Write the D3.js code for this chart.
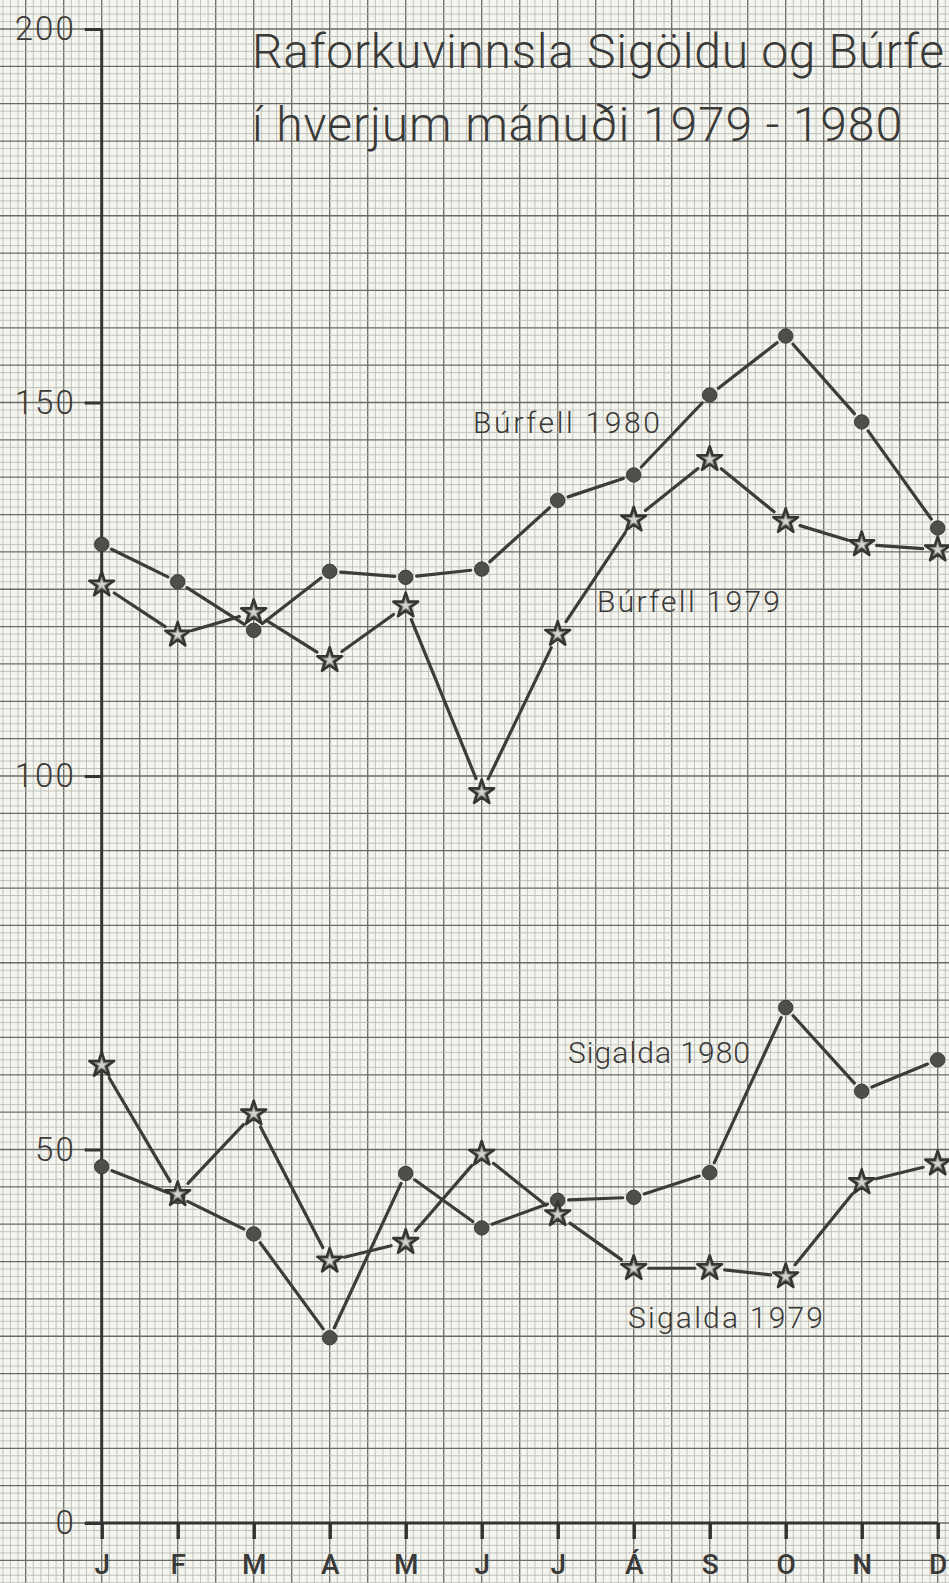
<!DOCTYPE html>
<html>
<head>
<meta charset="utf-8">
<script src="https://cdn.jsdelivr.net/npm/d3@7"></script>
<style>
  body { margin: 0; background: #f5f5f0; }
  svg { display: block; }
  text { font-family: Roboto, "DejaVu Sans", sans-serif; fill: #3a3a38; }
</style>
</head>
<body>
<svg width="949" height="1583"></svg>
<script>
// months along the bottom
var months = ["J", "F", "M", "A", "M", "J", "J", "Á", "S", "O", "N", "D"];
var yTicks = [0, 50, 100, 150, 200];

// GWh per month
var burfell1980 = [131.0, 126.0, 119.5, 127.4, 126.6, 127.7, 136.9, 140.3, 151.0, 158.9, 147.4, 133.2];
var burfell1979 = [125.6, 118.9, 121.9, 115.5, 122.8, 97.8, 119.0, 134.3, 142.4, 134.1, 131.0, 130.3];
var sigalda1980 = [47.7, 43.7, 38.7, 24.8, 46.8, 39.5, 43.2, 43.6, 46.9, 69.0, 57.8, 62.0];
var sigalda1979 = [61.3, 44.0, 54.8, 35.1, 37.6, 49.4, 41.3, 34.1, 34.1, 33.0, 45.6, 48.1];

var series = [
  { name: "Búrfell 1980", values: burfell1980, mark: "dot" },
  { name: "Búrfell 1979", values: burfell1979, mark: "star" },
  { name: "Sigalda 1980", values: sigalda1980, mark: "dot" },
  { name: "Sigalda 1979", values: sigalda1979, mark: "star" }
];

var svg = d3.select("svg");
var x = d3.scaleLinear().domain([0, 11]).range([101.7, 937.7]);
var y = d3.scaleLinear().domain([0, 200]).range([1523, 29]);

// graph paper
svg.append("rect").attr("width", 949).attr("height", 1583).attr("fill", "#f5f5f0");
var grid = svg.append("g");
d3.range(-14, 114).forEach(function(k) {
  var gx = x(k / 10);
  grid.append("line")
    .attr("x1", gx).attr("x2", gx).attr("y1", 0).attr("y2", 1583)
    .attr("stroke", k % 5 == 0 ? "#6a6a66" : "#b6b6b0")
    .attr("stroke-width", k % 5 == 0 ? 1.3 : 0.8);
});
d3.range(-9, 205).forEach(function(v) {
  var gy = y(v);
  grid.append("line")
    .attr("x1", 0).attr("x2", 949).attr("y1", gy).attr("y2", gy)
    .attr("stroke", v % 5 == 0 ? "#6a6a66" : "#b6b6b0")
    .attr("stroke-width", v % 5 == 0 ? 1.3 : 0.8);
});

// axes
svg.append("line")
  .attr("x1", x(0)).attr("x2", x(0)).attr("y1", y(200)).attr("y2", y(0))
  .attr("stroke", "#333").attr("stroke-width", 3);
svg.append("line")
  .attr("x1", x(-0.22)).attr("x2", x(11)).attr("y1", y(0)).attr("y2", y(0))
  .attr("stroke", "#333").attr("stroke-width", 3);

var yAxis = svg.append("g")
  .attr("transform", "translate(" + x(0) + ",0)")
  .call(d3.axisLeft(y).tickValues(yTicks).tickSize(17).tickPadding(9));
yAxis.select(".domain").remove();
yAxis.selectAll("line").attr("stroke", "#333").attr("stroke-width", 3);
yAxis.selectAll("text").attr("font-size", 33).attr("font-weight", 300)
  .attr("letter-spacing", 2)
  .style("font-family", "Roboto, sans-serif").attr("fill", "#3a3a38");

var xAxis = svg.append("g")
  .attr("transform", "translate(0," + y(0) + ")")
  .call(d3.axisBottom(x).tickValues(d3.range(12)).tickFormat(function(i) { return months[i]; })
    .tickSize(16).tickSizeOuter(0).tickPadding(15));
xAxis.select(".domain").remove();
xAxis.selectAll("line").attr("stroke", "#333").attr("stroke-width", 3.5);
xAxis.selectAll("text").attr("font-size", 28).attr("font-weight", 500)
  .style("font-family", "Roboto, sans-serif").attr("fill", "#3a3a38");

// lines with small gaps at the marks, like the hand drawing
var gap = { dot: 11, star: 15 };
series.forEach(function(s) {
  var g = svg.append("g");
  for (var i = 0; i < s.values.length - 1; i++) {
    var x1 = x(i), y1 = y(s.values[i]), x2 = x(i + 1), y2 = y(s.values[i + 1]);
    var len = Math.hypot(x2 - x1, y2 - y1);
    var ux = (x2 - x1) / len, uy = (y2 - y1) / len;
    g.append("line")
      .attr("x1", x1 + ux * gap[s.mark]).attr("y1", y1 + uy * gap[s.mark])
      .attr("x2", x2 - ux * gap[s.mark]).attr("y2", y2 - uy * gap[s.mark])
      .attr("stroke", "#3c3c3a").attr("stroke-width", 3.2).attr("stroke-linecap", "round");
  }
});

// marks
var starBig = d3.symbol().type(d3.symbolStar).size(190);
var starSmall = d3.symbol().type(d3.symbolStar).size(34);
series.forEach(function(s) {
  var g = svg.append("g");
  s.values.forEach(function(v, i) {
    if (s.mark == "dot") {
      g.append("circle").attr("cx", x(i)).attr("cy", y(v)).attr("r", 7.2)
        .attr("fill", "#4e4e4b").attr("stroke", "#3a3a38").attr("stroke-width", 1);
    } else {
      g.append("path").attr("d", starBig())
        .attr("transform", "translate(" + x(i) + "," + y(v) + ")")
        .attr("fill", "#8f8f89").attr("stroke", "#353533").attr("stroke-width", 2.6)
        .attr("stroke-linejoin", "round");
      g.append("path").attr("d", starSmall())
        .attr("transform", "translate(" + x(i) + "," + y(v) + ")")
        .attr("fill", "#d4d4cc");
    }
  });
});

// series labels
var labels = [
  { text: "Búrfell 1980", x: 473, y: 433, w: 187 },
  { text: "Búrfell 1979", x: 597, y: 612, w: 183 },
  { text: "Sigalda 1980", x: 568, y: 1063, w: 182 },
  { text: "Sigalda 1979", x: 628, y: 1328, w: 195 }
];
labels.forEach(function(l) {
  svg.append("text").attr("x", l.x).attr("y", l.y).text(l.text)
    .attr("font-size", 30).attr("font-weight", 300)
    .attr("textLength", l.w).attr("lengthAdjust", "spacing");
});

// title (the sheet is cut at the right edge, only "Búrfe" shows)
svg.append("text").attr("x", 252).attr("y", 68).text("Raforkuvinnsla Sigöldu og Búrfe")
  .attr("font-size", 48).attr("font-weight", 300)
  .attr("textLength", 692).attr("lengthAdjust", "spacing");
svg.append("text").attr("x", 252).attr("y", 141).text("í hverjum mánuði 1979 - 1980")
  .attr("font-size", 48).attr("font-weight", 300)
  .attr("textLength", 650).attr("lengthAdjust", "spacing");
</script>
</body>
</html>
